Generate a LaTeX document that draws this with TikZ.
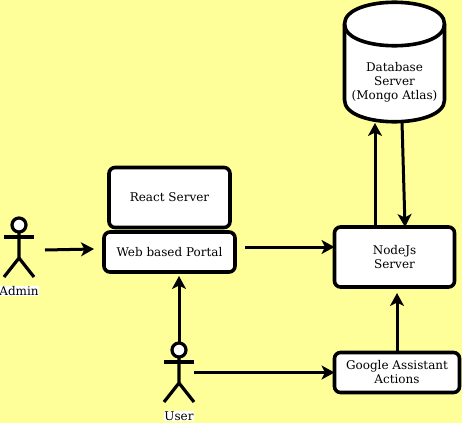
\documentclass[tikz,border=0pt]{standalone}
\usepackage{fontspec}
\setmainfont{DejaVu Serif}
\usetikzlibrary{arrows.meta,positioning}
\definecolor{bgy}{HTML}{FFFF99}
\tikzset{
  box/.style={draw=black,line width=3.6pt,fill=white,rounded corners=6pt,align=center,inner sep=0pt,outer sep=0pt,text=black,font=\fontsize{12pt}{14pt}\selectfont},
  line/.style={line width=3.6pt,draw=black},
  conn/.style={line width=3pt,draw=black,-{Stealth[length=13pt,width=14pt,inset=3.5pt]}},
  actorlabel/.style={fill=white,inner sep=0.5pt,text=black,font=\fontsize{12pt}{14pt}\selectfont},
  plain/.style={align=center,inner sep=0pt,text=black,font=\fontsize{12pt}{14pt}\selectfont}
}
\newcommand{\actor}[3]{%
  \draw[line,line width=3.2pt,fill=white] (#1,#2) circle (7pt);
  \draw[line,line width=3.2pt] (#1-15,#2+12) -- (#1+15,#2+12);
  \draw[line,line width=3.2pt] (#1,#2+7) -- (#1,#2+33) -- (#1-15,#2+52);
  \draw[line,line width=3.2pt] (#1,#2+33) -- (#1+15,#2+52);
}
\begin{document}
\begin{tikzpicture}[x=1pt,y=-1pt]
\useasboundingbox (0,0) rectangle (462,423);
\fill[bgy] (0,0) rectangle (462,423);
% cylinder
\draw[line,fill=white] (344.5,24) .. controls (344.5,-5) and (444.5,-5) .. (444.5,24)
  -- (444.5,100) .. controls (444.5,129) and (344.5,129) .. (344.5,100) -- cycle;
\draw[line] (344.5,24) .. controls (344.5,53) and (444.5,53) .. (444.5,24);
\node[plain] (db) at (394.5,82) {Database\\Server\\(Mongo Atlas)};
% boxes
\node[box,minimum width=121pt,minimum height=60pt] (react) at (169.5,197.5) {React Server};
\node[box,minimum width=131pt,minimum height=40pt] (web) at (169.5,252) {Web based Portal};
\node[box,minimum width=120pt,minimum height=60pt] (nodejs) at (394.5,257) {\raisebox{-1pt}{NodeJs}\\\raisebox{-1pt}{Server}};
\node[box,minimum width=125pt,minimum height=40pt] (google) at (397,372.5) {Google Assistant\\Actions};
% actors
\actor{19}{225}{Admin}
\actor{179}{350}{User}
\node[actorlabel] (adminl) at (19,291) {Admin};
\node[actorlabel] (userl) at (179,416) {User};
% connector ends
\coordinate (adminout) at (45,250);
\coordinate (webin) at (94,249);
\coordinate (webout) at (245,247);
\coordinate (userup) at (179,342);
\coordinate (webbot) at (179,276);
\coordinate (userout) at (194,372.5);
\coordinate (gout) at (397,352);
\coordinate (nbot) at (397,293);
\coordinate (ntop) at (375,227);
\coordinate (dbbot) at (375,123);
\coordinate (dbout) at (402,122);
\coordinate (ntop2) at (405,227);
\draw[conn] (adminout) -- (webin);
\draw[conn] (webout) -- (nodejs.west |- webout);
\draw[conn] (userup) -- (webbot);
\draw[conn] (userout) -- (google.west);
\draw[conn] (gout) -- (nbot);
\draw[conn] (ntop) -- (dbbot);
\draw[conn] (dbout) -- (ntop2);
\end{tikzpicture}
\end{document}
